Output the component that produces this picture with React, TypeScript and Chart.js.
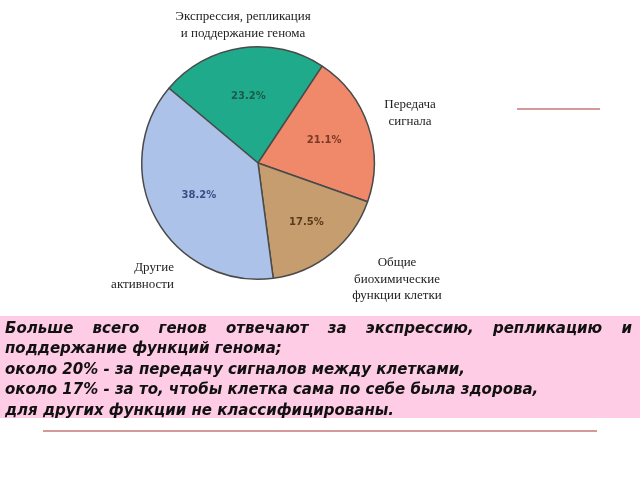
import React, { useEffect, useRef } from "react";
import { Chart, registerables } from "chart.js";

Chart.register(...registerables);

const categories = [
  ["Экспрессия, репликация", "и поддержание генома"],
  ["Передача", "сигнала"],
  ["Общие", "биохимические", "функции клетки"],
  ["Другие", "активности"],
];
const values = [23.2, 21.1, 17.5, 38.2];
const sliceColors = ["#20aa8c", "#f0896a", "#c69d6e", "#adc2e9"];
const valueColors = ["#1c5a4a", "#7a3a27", "#5a3b1d", "#3c4d86"];
const noteLines = [
  "Больше всего генов отвечают за экспрессию, репликацию и поддержание функций генома;",
  "около 20% - за передачу сигналов между клетками,",
  "около 17% - за то, чтобы клетка сама по себе была здорова,",
  "для других функции не классифицированы.",
];

// label layout (offset from pie centre, alignment)
const labelLayout: { dx: number; dy: number; align: CanvasTextAlign }[] = [
  { dx: -15, dy: -146, align: "center" },
  { dx: 152, dy: -58, align: "center" },
  { dx: 139, dy: 100, align: "center" },
  { dx: -84, dy: 105, align: "right" },
];
const valueRadiusFactor = [0.58, 0.6, 0.66, 0.58];

const labelPlugin = {
  id: "pieLabels",
  afterDatasetsDraw(chart: any) {
    const ctx = chart.ctx as CanvasRenderingContext2D;
    const meta = chart.getDatasetMeta(0);
    ctx.save();
    meta.data.forEach((arc: any, i: number) => {
      const { x, y, startAngle, endAngle, outerRadius } = arc.getProps(
        ["x", "y", "startAngle", "endAngle", "outerRadius"],
        true
      );
      const mid = (startAngle + endAngle) / 2;
      const r = outerRadius * valueRadiusFactor[i];
      ctx.font = "bold 10px 'DejaVu Sans', sans-serif";
      ctx.fillStyle = valueColors[i];
      ctx.textAlign = "center";
      ctx.textBaseline = "middle";
      ctx.fillText(values[i].toFixed(1) + "%", x + Math.cos(mid) * r, y + Math.sin(mid) * r);

      const lay = labelLayout[i];
      ctx.font = "13px 'Liberation Serif', 'DejaVu Serif', serif";
      ctx.fillStyle = "#222";
      ctx.textAlign = lay.align;
      categories[i].forEach((line, k) => {
        ctx.fillText(line, x + lay.dx, y + lay.dy + k * 16.5);
      });
    });
    ctx.restore();
  },
};

export default function App() {
  const ref = useRef<HTMLCanvasElement | null>(null);
  useEffect(() => {
    if (!ref.current) return;
    const chart = new Chart(ref.current, {
      type: "pie",
      data: {
        labels: categories.map((c) => c.join(" ")),
        datasets: [
          {
            data: values,
            backgroundColor: sliceColors,
            borderColor: "#4a4a4a",
            borderWidth: 1.5,
          },
        ],
      },
      options: {
        responsive: false,
        animation: false,
        rotation: -50,
        layout: { padding: { top: 46, left: 141, right: 265, bottom: 200 } },
        plugins: { legend: { display: false }, tooltip: { enabled: false } },
      },
      plugins: [labelPlugin],
    });
    return () => chart.destroy();
  }, []);

  const textStyle: React.CSSProperties = {
    fontFamily: "'DejaVu Sans', Verdana, sans-serif",
    fontWeight: "bold",
    fontStyle: "italic",
    fontSize: "15px",
    lineHeight: "20.4px",
    color: "#111",
  };

  return (
    <div style={{ position: "fixed", left: 0, top: 0, width: 640, height: 480, background: "#fff", overflow: "hidden" }}>
      <canvas ref={ref} width={640} height={480} style={{ position: "absolute", left: 0, top: 0 }} />
      <div style={{ position: "absolute", left: 517, top: 108, width: 83, height: 1.5, background: "#d49a9a" }} />
      <div
        style={{
          position: "absolute",
          left: 0,
          top: 316,
          width: 640,
          height: 102,
          background: "#ffcce6",
          boxSizing: "border-box",
          padding: "2px 8px 0 5px",
        }}
      >
        <div style={{ ...textStyle, textAlign: "justify" }}>{noteLines[0]}</div>
        {noteLines.slice(1).map((l, i) => (
          <div key={i} style={textStyle}>
            {l}
          </div>
        ))}
      </div>
      <div style={{ position: "absolute", left: 43, top: 430, width: 554, height: 2, background: "#d49a9a" }} />
    </div>
  );
}
